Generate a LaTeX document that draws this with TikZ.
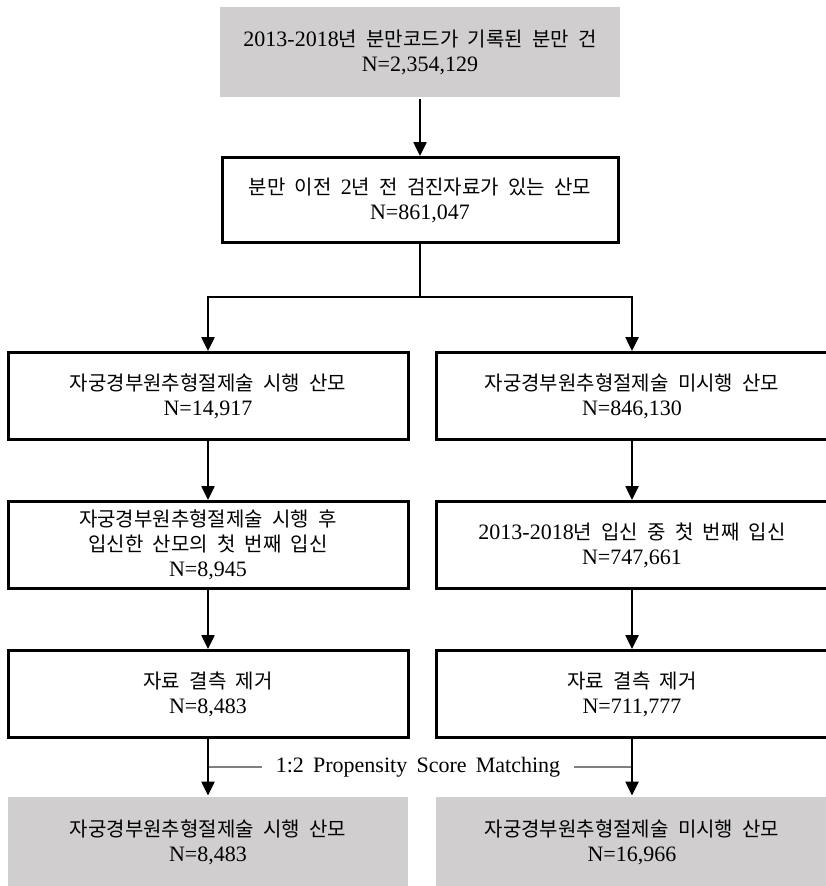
\documentclass[tikz,border=0pt]{standalone}
\usepackage{fontspec}
\setmainfont[Scale=1.1]{Liberation Serif}
\newfontfamily\kr{Noto Sans CJK KR}
\usepackage{tikz}
\usetikzlibrary{arrows.meta}
\definecolor{boxgrey}{RGB}{208,206,206}
\newcommand\boxfont{\fontsize{20}{25}\selectfont\spaceskip=0.42em\relax}

\begin{document}
\begin{tikzpicture}[x=1pt, y=-1pt,
        box/.style={draw, line width=3pt, minimum width=400pt, minimum height=87pt, inner sep=0pt, align=center, font=\boxfont},
        greybox/.style={box, draw=none, fill=boxgrey, minimum height=90pt},
        flow/.style={line width=2.5pt, -{Triangle[length=14pt, width=13pt]}},
        thin line/.style={line width=1.2pt, draw=gray}]
        \useasboundingbox (0, 0) rectangle (825, 886);

        \node[greybox] (all) at (420, 52) {2013-2018{\kr 년 분만코드가 기록된 분만 건}\\N=2,354,129};
        \node[box, minimum width=396pt, minimum height=85pt] (exam) at (420, 200) {{\kr 분만 이전 }2{\kr 년 전 검진자료가 있는 산모}\\N=861,047};
        \coordinate (split) at (420, 297);

        \node[box] (coneY) at (208, 396) {{\kr 자궁경부원추형절제술 시행 산모}\\N=14,917};
        \node[box, minimum width=392pt] (coneN) at (632, 396) {{\kr 자궁경부원추형절제술 미시행 산모}\\N=846,130};

        \node[box] (firstY) at (208, 545) {{\kr 자궁경부원추형절제술 시행 후}\\{\kr 입신한 산모의 첫 번째 입신}\\N=8,945};
        \node[box, minimum width=392pt] (firstN) at (632, 545) {2013-2018{\kr 년 입신 중 첫 번째 입신}\\N=747,661};

        \node[box] (missY) at (208, 694) {{\kr 자료 결측 제거}\\N=8,483};
        \node[box, minimum width=392pt] (missN) at (632, 694) {{\kr 자료 결측 제거}\\N=711,777};

        \node[greybox] (psmY) at (208, 842) {{\kr 자궁경부원추형절제술 시행 산모}\\N=8,483};
        \node[greybox, minimum width=392pt] (psmN) at (632, 842) {{\kr 자궁경부원추형절제술 미시행 산모}\\N=16,966};

        % matching label
        \node[inner sep=14pt, font=\boxfont] (match) at (418, 767) {1:2 Propensity Score Matching};
        \draw[thin line] (missY |- match) -- (match.west);
        \draw[thin line] (match.east) -- (missN |- match);

        \draw[flow] (all) -- (exam);
        \draw[line width=2.5pt] (exam) -- (split);
        \draw[flow] (split) -| (coneY);
        \draw[flow] (split) -| (coneN);
        \draw[flow] (coneY) -- (firstY);
        \draw[flow] (coneN) -- (firstN);
        \draw[flow] (firstY) -- (missY);
        \draw[flow] (firstN) -- (missN);
        \draw[flow] (missY) -- (psmY);
        \draw[flow] (missN) -- (psmN);
    \end{tikzpicture}
\end{document}
